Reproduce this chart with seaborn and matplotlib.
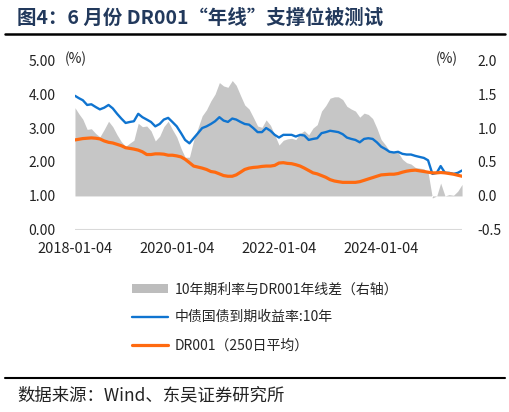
import pandas as pd
import numpy as np
import matplotlib
matplotlib.use('Agg')
import matplotlib.pyplot as plt
import matplotlib.dates as mdates
from matplotlib.patches import Patch
from matplotlib.lines import Line2D
import seaborn as sns

# monthly readings, 2018-01 .. 2025-08
months = pd.date_range('2018-01-01', '2025-08-01', freq='MS')

yield_10y = [
    3.95, 3.88, 3.82, 3.68, 3.70, 3.62, 3.55, 3.60, 3.68, 3.58, 3.42, 3.28,
    3.15, 3.18, 3.20, 3.42, 3.32, 3.25, 3.18, 3.05, 3.12, 3.25, 3.30, 3.18,
    3.05, 2.85, 2.65, 2.55, 2.70, 2.85, 3.00, 3.05, 3.12, 3.20, 3.32, 3.22,
    3.18, 3.28, 3.25, 3.18, 3.12, 3.10, 3.00, 2.88, 2.88, 3.00, 2.92, 2.80,
    2.72, 2.80, 2.80, 2.80, 2.75, 2.80, 2.78, 2.65, 2.68, 2.70, 2.85, 2.88,
    2.92, 2.90, 2.88, 2.82, 2.72, 2.68, 2.65, 2.58, 2.68, 2.70, 2.68, 2.58,
    2.45, 2.38, 2.30, 2.28, 2.30, 2.24, 2.22, 2.22, 2.18, 2.15, 2.12, 2.05,
    1.65, 1.68, 1.88, 1.68, 1.68, 1.65, 1.68, 1.75,
]

dr001_ma250 = [
    2.65, 2.67, 2.69, 2.70, 2.71, 2.70, 2.68, 2.62, 2.58, 2.56, 2.52, 2.48,
    2.42, 2.40, 2.38, 2.35, 2.30, 2.22, 2.22, 2.24, 2.24, 2.23, 2.20, 2.20,
    2.18, 2.15, 2.08, 1.98, 1.88, 1.85, 1.82, 1.78, 1.72, 1.70, 1.65, 1.60,
    1.58, 1.58, 1.62, 1.70, 1.78, 1.82, 1.84, 1.85, 1.87, 1.88, 1.88, 1.90,
    1.97, 1.98, 1.96, 1.95, 1.92, 1.88, 1.82, 1.75, 1.68, 1.65, 1.60, 1.55,
    1.48, 1.44, 1.42, 1.40, 1.40, 1.40, 1.40, 1.42, 1.46, 1.50, 1.54, 1.58,
    1.62, 1.63, 1.64, 1.64, 1.66, 1.70, 1.73, 1.75, 1.76, 1.74, 1.72, 1.70,
    1.68, 1.68, 1.69, 1.68, 1.66, 1.64, 1.61, 1.58,
]

tick_dates = ['2018-01-04', '2020-01-04', '2022-01-04', '2024-01-04']
left_ticks = [0, 1, 2, 3, 4, 5]
right_ticks = [-0.5, 0.0, 0.5, 1.0, 1.5, 2.0]

labels = ['10年期利率与DR001年线差（右轴）', '中债国债到期收益率:10年', 'DR001（250日平均）']

df = pd.DataFrame({'date': months, 'yield_10y': yield_10y, 'dr001': dr001_ma250})
df.loc[0, 'date'] = pd.Timestamp('2018-01-04')
df['spread'] = df['yield_10y'] - df['dr001']

sns.set_theme(style='white')
plt.rcParams['font.family'] = ['Noto Sans CJK SC', 'DejaVu Sans']

BLUE = '#0f74d0'
ORANGE = '#ff6a10'
GRAY = '#c6c6c6'
NAVY = '#22395c'
TXT = '#222222'

fig = plt.figure(figsize=(5.10, 4.12), dpi=100)
ax = fig.add_axes([0.147, 0.442, 0.759, 0.412])
ax2 = ax.twinx()

# spread on the right axis, drawn behind the lines
ax2.fill_between(df['date'], 0, df['spread'], color=GRAY, linewidth=0)
ax2.set_ylim(-0.5, 2.0)
ax2.set_yticks(right_ticks)
ax2.set_yticklabels([f'{t:.1f}' for t in right_ticks], fontsize=10, color=TXT)

ax.set_zorder(ax2.get_zorder() + 1)
ax.patch.set_visible(False)
sns.lineplot(data=df, x='date', y='yield_10y', ax=ax, color=BLUE, linewidth=1.7)
sns.lineplot(data=df, x='date', y='dr001', ax=ax, color=ORANGE, linewidth=2.3)
ax.axhline(0, color='#d9d9d9', linewidth=1.5, zorder=0)

ax.set_ylim(0, 5)
ax.set_yticks(left_ticks)
ax.set_yticklabels([f'{t:.2f}' for t in left_ticks], fontsize=10, color=TXT)
ax.set_xlim(pd.Timestamp('2018-01-04'), df['date'].iloc[-1])
ax.set_xticks(pd.to_datetime(tick_dates))
ax.xaxis.set_major_formatter(mdates.DateFormatter('%Y-%m-%d'))
ax.tick_params(axis='x', labelsize=10.5, colors=TXT, pad=9, length=0)
ax.tick_params(axis='y', length=0, pad=14)
ax2.tick_params(axis='y', length=0, pad=11)
ax.set_xlabel('')
ax.set_ylabel('')

for a in (ax, ax2):
    for s in a.spines.values():
        s.set_visible(False)
    a.grid(False)

fig.text(0.127, 0.857, '(%)', fontsize=10, color=TXT, va='center')
fig.text(0.855, 0.857, '(%)', fontsize=10, color=TXT, va='center')

# title, rules and source
fig.text(0.033, 0.955, '图4：6 月份 DR001“年线”支撑位被测试', fontsize=14,
         fontweight='bold', color=NAVY, va='center')
fig.add_artist(Line2D([0.01, 0.99], [0.918, 0.918], color='black', linewidth=1.8))
fig.add_artist(Line2D([0.01, 0.99], [0.083, 0.083], color='black', linewidth=1.5))
fig.text(0.033, 0.040, '数据来源：Wind、东吴证券研究所', fontsize=12.5, color=TXT, va='center')

handles = [Patch(facecolor='#bdbdbd', edgecolor='none'),
           Line2D([], [], color=BLUE, linewidth=1.7),
           Line2D([], [], color=ORANGE, linewidth=2.3)]
fig.legend(handles, labels, loc='upper left', bbox_to_anchor=(0.248, 0.328),
           frameon=False, fontsize=10, labelspacing=1.0, handlelength=2.6,
           handleheight=0.6, handletextpad=0.5, borderaxespad=0)

fig.savefig('out.png', dpi=100)
